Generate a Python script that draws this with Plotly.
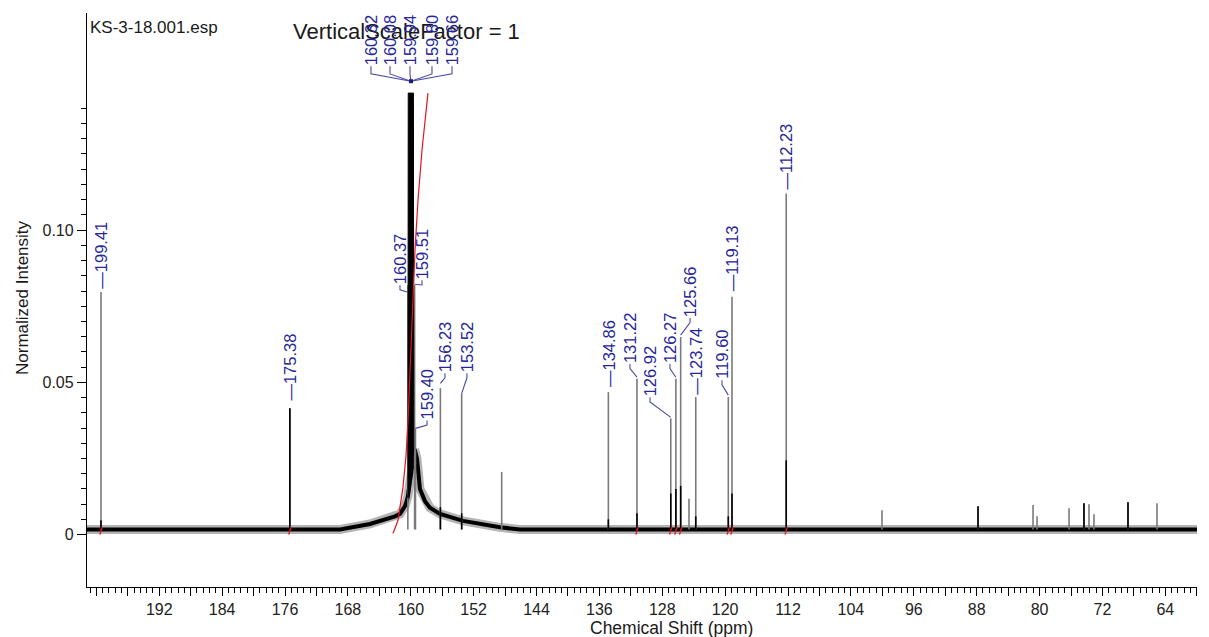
import numpy as np
import plotly.graph_objects as go

# ---------------- data ----------------
# peak positions (ppm) and full peak heights (normalized intensity)
peak_ppm = [199.41, 175.38, 160.37, 159.51, 159.40, 156.23, 153.52, 148.43,
            134.86, 131.22, 126.92, 126.27, 125.66, 124.60, 123.74, 119.60,
            119.13, 112.23, 100.05, 87.83, 80.83, 80.32, 76.25, 74.35,
            73.71, 73.08, 68.75, 65.06]
peak_int = [0.0797, 0.0415, 0.0819, 0.0819, 0.0349, 0.0481, 0.0464, 0.0206,
            0.0468, 0.0512, 0.0381, 0.0512, 0.0649, 0.0118, 0.0452, 0.0452,
            0.0781, 0.1120, 0.0080, 0.0093, 0.0097, 0.0060, 0.0087, 0.0103,
            0.0100, 0.0067, 0.0106, 0.0103]

# darker (black) lower parts of the peaks
core_ppm = [199.41, 175.38, 156.23, 153.52, 134.86, 131.22, 126.92, 126.27,
            125.66, 123.74, 119.60, 119.13, 112.23, 87.83, 74.35, 68.75]
core_int = [0.0047, 0.0415, 0.0090, 0.0070, 0.0050, 0.0070, 0.0135, 0.0150,
            0.0160, 0.0060, 0.0060, 0.0135, 0.0244, 0.0093, 0.0103, 0.0106]

# main multiplet (clipped at top)
cluster_ppm = [160.32, 160.08, 159.94, 159.80, 159.66]
cluster_int = [0.145, 0.145, 0.145, 0.145, 0.145]

# baseline level and broad hump under the big multiplet
baseline_level = 0.0017
hump_left_ppm = [169.0, 165.19, 163.28, 162.0, 161.37, 160.73, 160.48, 160.37]
hump_left_int = [0.0017, 0.0035, 0.0048, 0.0060, 0.0068, 0.0094, 0.0113, 0.0125]
hump_right_ppm = [159.51, 159.21, 158.83, 158.19, 157.55, 156.28, 153.35, 148.65, 146.1]
hump_right_int = [0.0280, 0.0250, 0.0150, 0.0110, 0.0088, 0.0068, 0.0045, 0.0024, 0.0017]

# integral curve (red) over the big multiplet
integral_ppm = [162.26, 161.62, 160.99, 160.60, 160.35, 160.10, 159.84, 159.46, 159.08, 158.57, 157.81]
integral_val = [0.0004, 0.0047, 0.0155, 0.0260, 0.0376, 0.0540, 0.0704, 0.0934, 0.1098, 0.1263, 0.1450]
integral_mark_ppm = [199.41, 175.38, 131.22, 126.92, 126.27, 125.66, 119.60, 119.13, 112.23]

# peak labels
label_text = ["199.41", "175.38", "160.37", "159.51", "159.40", "156.23", "153.52",
              "134.86", "131.22", "126.92", "126.27", "125.66", "123.74", "119.60",
              "119.13", "112.23"]
cluster_label_text = ["160.32", "160.08", "159.94", "159.80", "159.66"]

x_ticklabels = [192, 184, 176, 168, 160, 152, 144, 136, 128, 120, 112, 104, 96, 88, 80, 72, 64]
y_ticklabels = ["0", "0.05", "0.10"]
y_tickvals = [0, 0.05, 0.10]

# ---------------- label layout (positions of the text boxes) ----------------
label_x = [199.41, 175.38, 161.37, 158.57, 157.93, 155.65, 152.85, 134.86, 132.11,
           129.56, 127.02, 124.47, 123.74, 120.40, 119.13, 112.23]
label_base = [0.0806, 0.0438, 0.0819, 0.0835, 0.0375, 0.0530, 0.0530, 0.0481, 0.0560,
              0.0451, 0.0560, 0.0711, 0.0457, 0.0507, 0.0796, 0.1131]
label_hook = [None, None, 0.0796, 0.0822, 0.0349, 0.0497, 0.0464, None, 0.0517,
              0.0385, 0.0517, 0.0655, None, 0.0458, None, None]
cluster_label_x = [165.06, 162.64, 160.10, 157.30, 154.75]
cluster_label_base = 0.1538
cluster_join = (159.97, 0.1489)

LBL = "#27279a"
FONT = "Liberation Sans, Arial, sans-serif"

fig = go.Figure()

# baseline noise band (with hump)
base_x = [201.3] + hump_left_ppm + hump_right_ppm + [59.9]
base_y = [baseline_level] + hump_left_int + hump_right_int + [baseline_level]
fig.add_trace(go.Scatter(x=base_x, y=base_y, mode="lines",
                         line=dict(color="rgba(40,40,40,0.35)", width=9), hoverinfo="skip"))
fig.add_trace(go.Scatter(x=base_x, y=base_y, mode="lines",
                         line=dict(color="black", width=4), hoverinfo="skip"))

# gray peak sticks
sx, sy = [], []
for p, h in zip(peak_ppm, peak_int):
    sx += [p, p, None]
    sy += [baseline_level, h, None]
fig.add_trace(go.Scatter(x=sx, y=sy, mode="lines",
                         line=dict(color="#7a7a7a", width=1.6), hoverinfo="skip"))

# black lower parts
cx, cy = [], []
for p, h in zip(core_ppm, core_int):
    cx += [p, p, None]
    cy += [baseline_level, h, None]
fig.add_trace(go.Scatter(x=cx, y=cy, mode="lines",
                         line=dict(color="black", width=1.6), hoverinfo="skip"))

# big multiplet block
bx = [cluster_ppm[0] + 0.04] + cluster_ppm + [cluster_ppm[-1] - 0.04]
by = [0.012] + cluster_int + [0.028]
fig.add_trace(go.Scatter(x=bx + [bx[0]], y=by + [by[0]], mode="lines", fill="toself",
                         fillcolor="black", line=dict(color="black", width=1), hoverinfo="skip"))

# integral (red)
fig.add_trace(go.Scatter(x=integral_ppm, y=integral_val, mode="lines",
                         line=dict(color="#e8141b", width=1.2), hoverinfo="skip"))
rx, ry = [], []
for p in integral_mark_ppm:
    rx += [p + 0.15, p - 0.15, None]
    ry += [0.0, 0.0025, None]
fig.add_trace(go.Scatter(x=rx, y=ry, mode="lines",
                         line=dict(color="#e8141b", width=1.3), hoverinfo="skip"))

# label connectors (hooks)
hx, hy = [], []
for t, lx, lb, hk in zip(label_text, label_x, label_base, label_hook):
    if hk is None:
        continue
    p = float(t)
    hx += [lx, lx, p, None]
    hy += [lb, lb - 0.0015, hk, None]
for lx in cluster_label_x:
    hx += [lx, lx, cluster_join[0], None]
    hy += [cluster_label_base, cluster_label_base - 0.0025, cluster_join[1], None]
fig.add_trace(go.Scatter(x=hx, y=hy, mode="lines",
                         line=dict(color="#4a4aa6", width=1.1), hoverinfo="skip"))
fig.add_trace(go.Scatter(x=[cluster_join[0]], y=[cluster_join[1]], mode="markers",
                         marker=dict(color="#1a1a80", size=4, symbol="square"), hoverinfo="skip"))

annotations = []
annotations.append(dict(text="KS-3-18.001.esp", xref="paper", yref="paper", x=0.001, y=0.9756,
                        xanchor="left", yanchor="middle", showarrow=False,
                        font=dict(family=FONT, size=17, color="#1a1a1a")))
annotations.append(dict(text="VerticalScaleFactor = 1", xref="paper", yref="paper", x=0.2874, y=0.9669,
                        xanchor="center", yanchor="middle", showarrow=False,
                        font=dict(family=FONT, size=22, color="#1a1a1a")))
annotations.append(dict(text="Normalized Intensity", xref="paper", yref="paper", x=-0.0586, y=0.5052,
                        xanchor="center", yanchor="middle", textangle=-90, showarrow=False,
                        font=dict(family=FONT, size=17, color="#1a1a1a")))
annotations.append(dict(text="Chemical Shift (ppm)", xref="paper", yref="paper", x=0.527, y=-0.0714,
                        xanchor="center", yanchor="middle", showarrow=False,
                        font=dict(family=FONT, size=17.5, color="#1a1a1a")))

for t, lx, lb, hk in zip(label_text, label_x, label_base, label_hook):
    txt = ("\u2014" + t) if hk is None else t
    annotations.append(dict(text=txt, x=lx, y=lb, xref="x", yref="y", textangle=-90,
                            xanchor="center", yanchor="bottom", showarrow=False, borderpad=0,
                            font=dict(family=FONT, size=16.5, color=LBL)))
for t, lx in zip(cluster_label_text, cluster_label_x):
    annotations.append(dict(text=t, x=lx, y=cluster_label_base, xref="x", yref="y", textangle=-90,
                            xanchor="center", yanchor="bottom", showarrow=False, borderpad=0,
                            font=dict(family=FONT, size=16.5, color=LBL)))

x_tickvals = list(np.arange(60, 201, 4))
x_ticktext = [str(int(v)) if int(v) in x_ticklabels else "" for v in x_tickvals]

fig.update_layout(
    width=1209, height=637,
    margin=dict(l=87, r=12, t=13, b=50),
    paper_bgcolor="white", plot_bgcolor="white",
    showlegend=False,
    annotations=annotations,
    font=dict(family=FONT, size=16, color="#222"),
    xaxis=dict(range=[201.19, 59.97], showgrid=False, zeroline=False,
               showline=True, linecolor="black", linewidth=1.3,
               ticks="outside", ticklen=8, tickwidth=1.2, tickcolor="black",
               tickmode="array", tickvals=x_tickvals, ticktext=x_ticktext,
               tickfont=dict(family=FONT, size=16, color="#222"),
               minor=dict(tickmode="linear", tick0=0, dtick=0.8, ticklen=5,
                          tickwidth=1, tickcolor="black", ticks="outside")),
    yaxis=dict(range=[-0.0172, 0.1713], showgrid=False, zeroline=False,
               showline=True, linecolor="black", linewidth=1.3,
               ticks="outside", ticklen=9, tickwidth=1.2, tickcolor="black",
               tickmode="array", tickvals=y_tickvals, ticktext=y_ticklabels,
               tickfont=dict(family=FONT, size=16, color="#222"),
               minor=dict(tickmode="array",
                          tickvals=[round(v, 3) for v in np.arange(0.005, 0.1405, 0.005)],
                          ticklen=5, tickwidth=1, tickcolor="black", ticks="outside")),
)

fig.write_html("out.html", config={"displayModeBar": False},
               post_script="document.body.style.margin='0px';document.body.style.overflow='hidden';")
